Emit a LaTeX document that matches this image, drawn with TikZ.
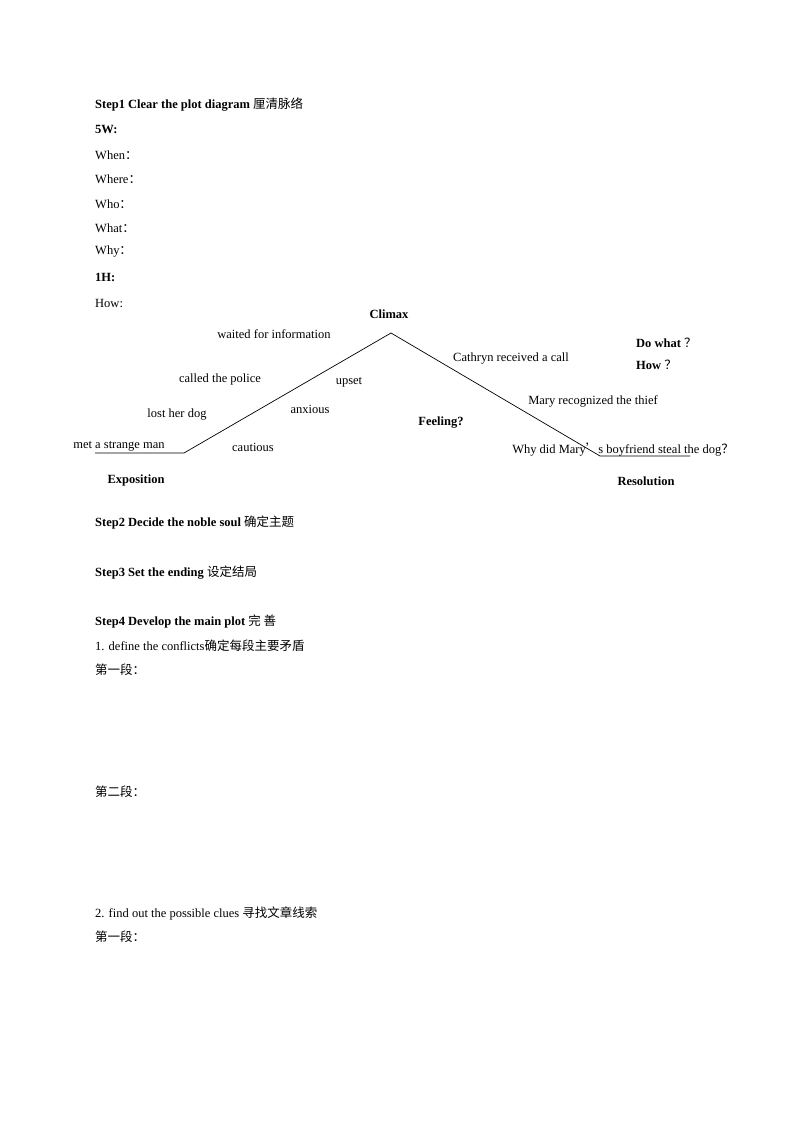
\documentclass[tikz,border=0pt]{standalone}
\usepackage{fontspec}
\setmainfont{Liberation Serif}
\newfontfamily\cjk{Noto Sans CJK SC}
\begin{document}
\begin{tikzpicture}[x=1pt,y=-1pt,
  txt/.style={anchor=west,inner sep=0pt,font=\fontsize{12.5}{14}\selectfont},
  hd/.style={txt,font=\fontsize{12.5}{14}\selectfont\bfseries},
  lb/.style={inner sep=0pt,font=\fontsize{12.5}{14}\selectfont},
  lbb/.style={lb,font=\fontsize{12.5}{14}\selectfont\bfseries},
  plot/.style={line width=0.7pt}]
\useasboundingbox (0,0) rectangle (794,1123);
\node[hd] (s1) at (95,105) {Step1 Clear the plot diagram {\cjk\mdseries 厘清脉络}};
\node[hd] (w5) at (95,130) {5W:};
\node[txt] (when) at (95,155) {When{\cjk ：}};
\node[txt] (where) at (95,179) {Where{\cjk ：}};
\node[txt] (who) at (95,204) {Who{\cjk ：}};
\node[txt] (what) at (95,228) {What{\cjk ：}};
\node[txt] (why) at (95,252) {Why{\cjk ：}};
\node[hd] (h1) at (95,277) {1H:};
\node[txt] (how) at (95,303) {How:};
% plot line
\coordinate (a) at (95,453);
\coordinate (b) at (184,453);
\coordinate (c) at (391,333);
\coordinate (d) at (600,456);
\coordinate (e) at (690,456);
\draw[plot] (a) -- (b) -- (c) -- (d) -- (e);
\node[lbb] (climax) at (389,314) {Climax};
\node[lb] (wait) at (274,334) {waited for information};
\node[lb] (cath) at (511,359) {Cathryn received a call};
\node[hd] (dowhat) at (636,343) {Do what {\cjk\mdseries ？}};
\node[hd] (howq) at (636,365) {How {\cjk\mdseries ？}};
\node[lb] (police) at (220,379) {called the police};
\node[lb] (upset) at (349,382) {upset};
\node[lb] (mary) at (593,401) {Mary recognized the thief};
\node[lb] (lost) at (177,415) {lost her dog};
\node[lb] (anx) at (310,409) {anxious};
\node[lbb] (feel) at (441,423) {Feeling?};
\node[lb] (met) at (119,446) {met a strange man};
\node[lb] (caut) at (253,447) {cautious};
\node[lb] (whyq) at (623,450) {Why did Mary{\cjk ’}s boyfriend steal the dog{\cjk ？}};
\node[lbb] (expo) at (136,480) {Exposition};
\node[lbb] (reso) at (646,481) {Resolution};
\node[hd] (s2) at (95,523) {Step2 Decide the noble soul {\cjk\mdseries 确定主题}};
\node[hd] (s3) at (95,573) {Step3 Set the ending {\cjk\mdseries 设定结局}};
\node[hd] (s4) at (95,622) {Step4 Develop the main plot {\cjk\mdseries 完 善}};
\node[txt] (d1) at (95,646) {1. define the conflicts{\cjk 确定每段主要矛盾}};
\node[txt] (p1) at (95,670) {\cjk 第一段：};
\node[txt] (p2) at (95,792) {\cjk 第二段：};
\node[txt] (d2) at (95,913) {2. find out the possible clues {\cjk 寻找文章线索}};
\node[txt] (p3) at (95,937) {\cjk 第一段：};
\end{tikzpicture}
\end{document}
